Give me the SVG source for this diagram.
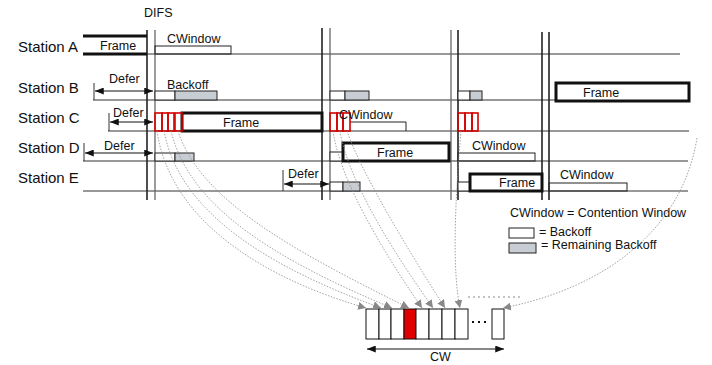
<svg xmlns="http://www.w3.org/2000/svg" width="712" height="365" viewBox="0 0 712 365">
<style>
text{font-family:"Liberation Sans",Arial,sans-serif;fill:#111}
.st{font-size:15px}
.lb{font-size:12.5px}
.base{stroke:#333;stroke-width:1;fill:none}
.vd{stroke:#222;stroke-width:1.6}
.vg{stroke:#666;stroke-width:1.3}
.bo{fill:#fff;stroke:#222;stroke-width:1}
.rb{fill:#c8cdd4;stroke:#222;stroke-width:1}
.fr{fill:#fff;stroke:#111;stroke-width:3}
.cw{fill:none;stroke:#222;stroke-width:1}
.red{fill:none;stroke:#d40000;stroke-width:1.6}
.tick{stroke:#333;stroke-width:1}
.def{stroke:#111;stroke-width:1.2;marker-start:url(#ah);marker-end:url(#ah)}
.dot{fill:none;stroke:#8a8a8a;stroke-width:0.8;stroke-dasharray:1.5 1.5;marker-end:url(#ga)}
.slot{fill:#fff;stroke:#111;stroke-width:1}
</style>
<defs>
<marker id="ah" viewBox="0 0 10 8" refX="10" refY="4" markerWidth="9" markerHeight="7" markerUnits="userSpaceOnUse" orient="auto-start-reverse"><path d="M0,0 L10,4 L0,8 z" fill="#111"/></marker>
<marker id="ga" viewBox="0 0 10 10" refX="10" refY="5" markerWidth="8" markerHeight="8" markerUnits="userSpaceOnUse" orient="auto"><path d="M0,0 L10,5 L0,10 z" fill="#888"/></marker>
</defs>
<rect width="712" height="365" fill="#fff"/>

<g id="labels">
<text class="lb" x="144" y="17">DIFS</text>
<text class="st" x="18" y="52">Station A</text>
<text class="st" x="18" y="93">Station B</text>
<text class="st" x="18" y="123">Station C</text>
<text class="st" x="18" y="153">Station D</text>
<text class="st" x="18" y="183">Station E</text>
</g>

<g id="baselines">
<line class="base" x1="147" y1="54" x2="680" y2="54"/>
<line class="base" x1="93" y1="100" x2="689" y2="100"/>
<line class="base" x1="108" y1="131" x2="689" y2="131"/>
<line class="base" x1="83" y1="161" x2="688" y2="161"/>
<line class="base" x1="83" y1="191" x2="688" y2="191"/>
</g>

<g id="slot-lines">
<line class="vd" x1="147" y1="30" x2="147" y2="200"/>
<line class="vg" x1="155" y1="30" x2="155" y2="200"/>
<line class="vd" x1="322" y1="28" x2="322" y2="200"/>
<line class="vg" x1="330" y1="28" x2="330" y2="200"/>
<line class="vg" x1="451" y1="30" x2="451" y2="200"/>
<line class="vd" x1="458" y1="30" x2="458" y2="200"/>
<line class="vd" x1="542" y1="32" x2="542" y2="200"/>
<line class="vd" x1="549" y1="32" x2="549" y2="200"/>
</g>

<g id="station-a">
<line x1="83" y1="36" x2="147" y2="36" stroke="#111" stroke-width="3"/>
<line x1="83" y1="54" x2="147" y2="54" stroke="#111" stroke-width="3"/>
<text class="lb" x="100" y="50">Frame</text>
<rect class="cw" x="155" y="46" width="76" height="8"/>
<text class="lb" x="167" y="43">CWindow</text>
</g>

<g id="station-b">
<line class="tick" x1="94" y1="83" x2="94" y2="100"/>
<line class="def" x1="95" y1="91" x2="153" y2="91"/>
<text class="lb" x="109" y="83">Defer</text>
<rect class="bo" x="155" y="91" width="20" height="9"/>
<rect class="rb" x="175" y="91" width="42" height="9"/>
<text class="lb" x="167" y="89">Backoff</text>
<rect class="bo" x="330" y="91" width="15" height="9"/>
<rect class="rb" x="345" y="91" width="24" height="9"/>
<rect class="bo" x="458" y="91" width="12" height="9"/>
<rect class="rb" x="470" y="91" width="12" height="9"/>
<rect class="fr" x="556" y="83" width="133" height="18"/>
<text class="lb" x="583" y="97">Frame</text>
</g>

<g id="station-c">
<line class="tick" x1="109" y1="113" x2="109" y2="131"/>
<line class="def" x1="110" y1="122" x2="153" y2="122"/>
<text class="lb" x="113" y="117">Defer</text>
<rect class="fr" x="182" y="113" width="140" height="18"/>
<text class="lb" x="223" y="127">Frame</text>
<rect class="red" x="155" y="113" width="7" height="18"/>
<rect class="red" x="162" y="113" width="6" height="18"/>
<rect class="red" x="168" y="113" width="6" height="18"/>
<rect class="red" x="175" y="113" width="7" height="18"/>
<path class="cw" d="M350,122 H406 V131"/>
<rect class="red" x="330" y="113" width="7" height="18"/>
<rect class="red" x="337" y="113" width="6" height="18"/>
<rect class="red" x="343" y="113" width="7" height="18"/>
<text class="lb" x="339" y="119">CWindow</text>
<rect class="red" x="458" y="113" width="7" height="18"/>
<rect class="red" x="465" y="113" width="7" height="18"/>
<rect class="red" x="472" y="113" width="6" height="18"/>
</g>

<g id="station-d">
<line class="tick" x1="84" y1="143" x2="84" y2="161"/>
<line class="def" x1="85" y1="153" x2="153" y2="153"/>
<text class="lb" x="104" y="150">Defer</text>
<rect class="bo" x="155" y="153" width="20" height="8"/>
<rect class="rb" x="175" y="153" width="19" height="8"/>
<rect class="bo" x="330" y="152" width="13" height="9"/>
<rect class="fr" x="343" y="143" width="106" height="18"/>
<text class="lb" x="377" y="157">Frame</text>
<rect class="cw" x="458" y="153" width="77" height="8"/>
<text class="lb" x="472" y="150">CWindow</text>
</g>

<g id="station-e">
<line class="tick" x1="283" y1="170" x2="283" y2="191"/>
<line class="def" x1="284" y1="184" x2="329" y2="184"/>
<text class="lb" x="288" y="178">Defer</text>
<rect class="bo" x="330" y="182" width="13" height="9"/>
<rect class="rb" x="343" y="182" width="17" height="9"/>
<rect class="bo" x="458" y="182" width="12" height="9"/>
<rect class="fr" x="470" y="174" width="72" height="17"/>
<text class="lb" x="499" y="187">Frame</text>
<rect class="cw" x="549" y="183" width="78" height="8"/>
<text class="lb" x="560" y="179">CWindow</text>
</g>

<g id="legend">
<text class="lb" x="510" y="217">CWindow = Contention Window</text>
<rect class="bo" x="509" y="228" width="25" height="10"/>
<text class="lb" x="539" y="236">= Backoff</text>
<rect class="rb" x="509" y="243" width="27" height="10"/>
<text class="lb" x="541" y="249">= Remaining Backoff</text>
</g>

<g id="contention-window">
<rect class="slot" x="366" y="309" width="13" height="30"/>
<rect class="slot" x="379" y="309" width="12" height="30"/>
<rect class="slot" x="391" y="309" width="13" height="30"/>
<rect x="404" y="309" width="12" height="30" fill="#e00000" stroke="#111" stroke-width="1"/>
<rect class="slot" x="416" y="309" width="13" height="30"/>
<rect class="slot" x="429" y="309" width="13" height="30"/>
<rect class="slot" x="442" y="309" width="13" height="30"/>
<rect class="slot" x="455" y="309" width="13" height="30"/>
<rect x="472" y="321" width="2" height="2" fill="#111"/>
<rect x="478" y="321" width="2" height="2" fill="#111"/>
<rect x="484" y="321" width="2" height="2" fill="#111"/>
<rect class="slot" x="492" y="309" width="12" height="30"/>
<line class="def" x1="367" y1="349" x2="504" y2="349"/>
<text x="430" y="361" font-size="12.5">CW</text>
<line x1="468" y1="297" x2="523" y2="297" stroke="#888" stroke-width="1" stroke-dasharray="2 3"/>
</g>

<g id="connectors">
<path class="dot" d="M157,131 C170,220 262,278 366,308"/>
<path class="dot" d="M164,131 C180,215 272,268 381,308"/>
<path class="dot" d="M171,131 C190,210 282,262 392,308"/>
<path class="dot" d="M178,131 C200,200 292,250 409,308"/>
<path class="dot" d="M333,131 C340,180 382,250 422,308"/>
<path class="dot" d="M340,131 C348,180 392,250 433,308"/>
<path class="dot" d="M347,131 C360,170 405,245 445,308"/>
<path class="dot" d="M461,131 C455,200 452,270 460,308"/>
<path class="dot" d="M697,138 C682,230 605,288 503,308"/>
</g>
</svg>
